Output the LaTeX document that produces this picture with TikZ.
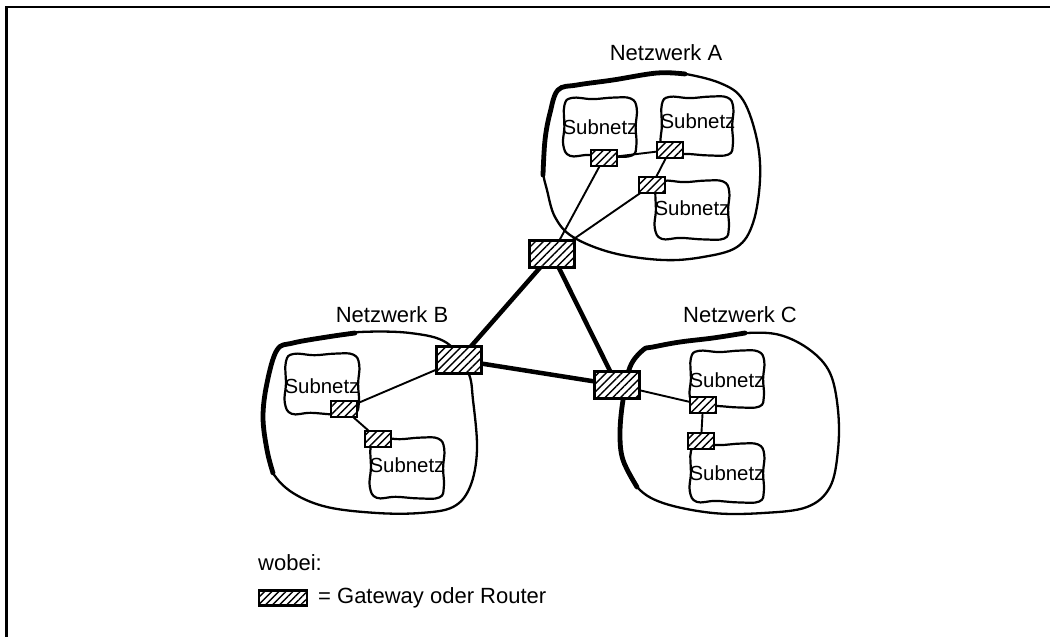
\documentclass[tikz,border=0pt]{standalone}
\usepackage{fontspec}
\setmainfont{Liberation Sans}
\usetikzlibrary{patterns.meta,backgrounds}

\tikzset{
  hatch/.style={preaction={fill=white},
    pattern={Lines[angle=45,distance=5.5pt,line width=1.4pt]}},
  gateway/.style={hatch, draw, line width=2.2pt, minimum width=45pt,
    minimum height=27pt, inner sep=0pt},
  router/.style={hatch, draw, line width=1.8pt, minimum width=26pt,
    minimum height=15.5pt, inner sep=0pt},
  legendbox/.style={preaction={fill=white},
    pattern={Lines[angle=45,distance=5pt,line width=1.4pt]},
    draw, line width=2.6pt, minimum width=48pt, minimum height=15pt, inner sep=0pt},
  netlabel/.style={font=\fontsize{22}{26}\selectfont, inner sep=0pt},
  sublabel/.style={font=\fontsize{20.4}{24}\selectfont, inner sep=0pt},
  thinlink/.style={line width=1.9pt},
  backbone/.style={line width=4.5pt},
  netline/.style={line width=2.3pt, line join=round},
  netrim/.style={line width=4.8pt, line cap=round},
  subline/.style={line width=2.2pt},
  pics/cloud/.style={code={
    \draw[subline] plot[smooth cycle,tension=0.7] coordinates {
      (-0.95,-0.72) (-0.75,-0.97) (-0.2,-0.93) (0.35,-0.98) (0.82,-0.95)
      (0.98,-0.62) (0.95,0) (0.97,0.6) (0.85,0.95) (0.3,0.98)
      (-0.3,0.93) (-0.8,0.96) (-0.98,0.6) (-0.95,0)};
  }}
}

\begin{document}
\begin{tikzpicture}[x=1pt,y=-1pt]
\useasboundingbox (0,0) rectangle (1050,637);

% frame (top and left edges)
\draw[line width=2.5pt] (1050,7) -- (6.5,7) -- (6.5,637);

% network labels
\node[netlabel] (labA) at (666,53) {Netzwerk A};
\node[netlabel] (labB) at (392,315) {Netzwerk B};
\node[netlabel] (labC) at (740,315) {Netzwerk C};

% gateways between the networks
\node[gateway] (gA) at (552,254) {};
\node[gateway] (gB) at (459,360) {};
\node[gateway] (gC) at (617,385) {};

% routers inside the networks
\node[router] (rA1) at (604,158) {};
\node[router] (rA2) at (670,150) {};
\node[router] (rA3) at (652,185) {};
\node[router] (rB1) at (344,409) {};
\node[router] (rB2) at (378,439) {};
\node[router] (rC1) at (703,405) {};
\node[router] (rC2) at (701,441) {};

% subnet names
\node[sublabel] (sA1) at (600,127) {Subnetz};
\node[sublabel] (sA2) at (698,121) {Subnetz};
\node[sublabel] (sA3) at (692,208) {Subnetz};
\node[sublabel] (sB1) at (322,386) {Subnetz};
\node[sublabel] (sB2) at (407,465) {Subnetz};
\node[sublabel] (sC1) at (727,380) {Subnetz};
\node[sublabel] (sC2) at (727,473) {Subnetz};

% legend
\node[netlabel, anchor=west] (wobei) at (258,563) {wobei:};
\node[legendbox] (legbox) at (283,598) {};
\node[netlabel, anchor=west] (legtext) at (318,598) {= Gateway oder Router};

\begin{pgfonlayer}{background}
  % network A outline
  \draw[netline] plot[smooth cycle,tension=0.6] coordinates {
    (558,90) (577,85) (613,80) (657,73) (680,73) (720,83) (743,100)
    (757,140) (760,180) (753,223) (737,247) (703,257) (663,260)
    (613,253) (573,237) (555,217) (547,190) (543,170) (545,140) (550,113)};
  \draw[netrim] plot[smooth,tension=0.6] coordinates {
    (543,175) (545,140) (550,113) (558,90) (577,85) (613,80) (657,73) (685,74)};

  % network B outline
  \draw[netline] plot[smooth cycle,tension=0.6] coordinates {
    (277,350) (293,343) (327,337) (360,332) (410,333) (447,343) (468,372)
    (473,400) (477,450) (470,487) (453,507) (420,513) (377,513) (327,507)
    (293,493) (273,473) (267,450) (263,417) (267,383)};
  \draw[netrim] plot[smooth,tension=0.6] coordinates {
    (273,473) (267,450) (263,417) (267,383) (277,350) (293,343) (327,337) (355,333)};

  % network C outline
  \draw[netline] plot[smooth cycle,tension=0.6] coordinates {
    (653,347) (680,342) (713,338) (747,333) (780,335) (810,350) (830,373)
    (838,410) (838,450) (830,487) (807,507) (763,513) (713,513) (663,503)
    (637,487) (623,460) (620,433) (623,400) (630,367) (643,350)};
  \draw[netrim] plot[smooth,tension=0.6] coordinates {
    (637,487) (623,460) (620,433) (623,400) (630,367) (643,350) (653,347)
    (680,342) (713,338) (745,333)};

  % subnets
  \pic[xscale=37.5,yscale=30] at (600,127) {cloud};
  \pic[xscale=37,yscale=30] at (697,126) {cloud};
  \pic[xscale=38,yscale=30] at (692,210) {cloud};
  \pic[xscale=38,yscale=31] at (322,384) {cloud};
  \pic[xscale=38,yscale=31] at (407,468) {cloud};
  \pic[xscale=38,yscale=29] at (727,379) {cloud};
  \pic[xscale=38,yscale=30] at (727,473) {cloud};

  % backbone between the gateways
  \draw[backbone] (gA.center) -- (gB.center);
  \draw[backbone] (gA.center) -- (gC.center);
  \draw[backbone] (gB.center) -- (gC.center);

  % links inside the networks
  \draw[thinlink] (gA.center) -- (rA1.center);
  \draw[thinlink] (gA.center) -- (rA3.center);
  \draw[thinlink] (rA1.center) -- (rA2.center);
  \draw[thinlink] (rA2.center) -- (rA3.center);
  \draw[thinlink] (gB.center) -- (rB1.center);
  \draw[thinlink] (rB1.center) -- (rB2.center);
  \draw[thinlink] (gC.center) -- (rC1.center);
  \draw[thinlink] (rC1.center) -- (rC2.center);
\end{pgfonlayer}
\end{tikzpicture}
\end{document}
